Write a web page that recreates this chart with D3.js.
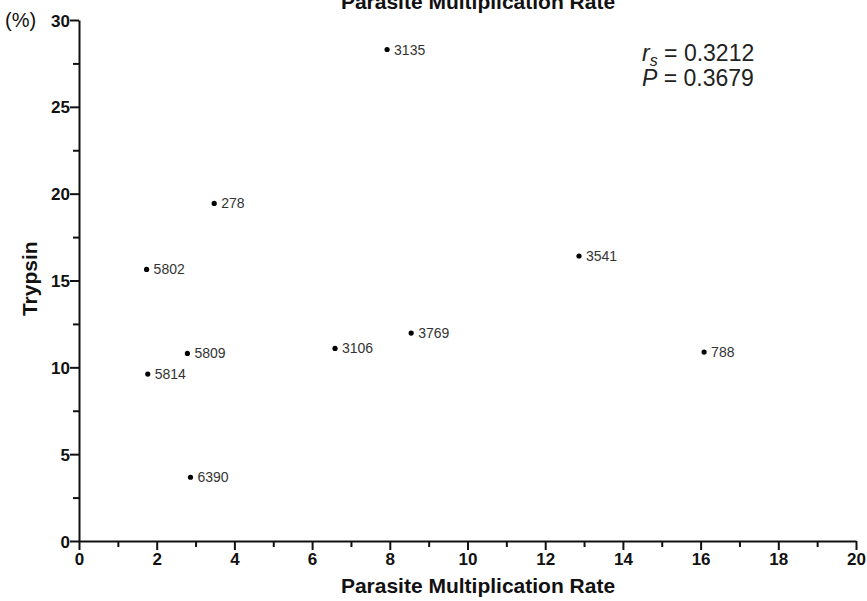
<!DOCTYPE html>
<html>
<head>
<meta charset="utf-8">
<script src="https://cdn.jsdelivr.net/npm/d3@7"></script>
<style>
  body { margin: 0; background: #fff; }
  svg text { font-family: "Liberation Sans", Arial, sans-serif; }
</style>
</head>
<body>
<div id="chart"></div>
<script>
// Data setup
const strains = ["3135", "278", "5802", "5809", "5814", "6390", "3106", "3769", "3541", "788"];
const multRate = [7.93, 3.48, 1.74, 2.79, 1.77, 2.87, 6.59, 8.55, 12.87, 16.09];
const trypsin = [28.3, 19.44, 15.64, 10.80, 9.61, 3.67, 11.09, 11.97, 16.41, 10.88];
const xTicks = [0, 2, 4, 6, 8, 10, 12, 14, 16, 18, 20];
const yTicks = [0, 5, 10, 15, 20, 25, 30];

const points = strains.map((s, i) => ({name: s, x: multRate[i], y: trypsin[i]}));

// Dimensions
const W = 867, H = 601;
const margin = {top: 20, right: 11, bottom: 60, left: 79};

const svg = d3.select("#chart")
    .append("svg")
    .attr("width", W)
    .attr("height", H);

const x = d3.scaleLinear().domain([0, 20]).range([margin.left, W - margin.right]);
const y = d3.scaleLinear().domain([0, 30]).range([H - margin.bottom, margin.top]);

// Minor ticks first (no labels)
svg.append("g")
    .attr("class", "minor")
    .attr("transform", `translate(0,${y(0)})`)
    .call(d3.axisBottom(x).tickValues(d3.range(1, 20, 2)).tickSize(6).tickFormat(""));
svg.append("g")
    .attr("class", "minor")
    .attr("transform", `translate(${x(0)},0)`)
    .call(d3.axisLeft(y).tickValues(d3.range(2.5, 30, 5)).tickSize(6).tickFormat(""));

// Major axes
const xAxis = svg.append("g")
    .attr("transform", `translate(0,${y(0)})`)
    .call(d3.axisBottom(x).tickValues(xTicks).tickSize(9).tickPadding(3).tickSizeOuter(0));
const yAxis = svg.append("g")
    .attr("transform", `translate(${x(0)},0)`)
    .call(d3.axisLeft(y).tickValues(yTicks).tickSize(9).tickPadding(0).tickSizeOuter(0));

svg.selectAll(".domain, .tick line")
    .attr("stroke", "#111")
    .attr("stroke-width", 2);
svg.selectAll(".minor .domain").remove();
xAxis.selectAll("text")
    .attr("font-size", 17).attr("font-weight", "bold").attr("fill", "#111");
yAxis.selectAll("text")
    .attr("font-size", 17).attr("font-weight", "bold").attr("fill", "#111")
    .attr("dy", "0.36em");

// Axis titles
svg.append("text")
    .attr("x", 478)
    .attr("y", 593)
    .attr("text-anchor", "middle")
    .attr("font-size", 21)
    .attr("font-weight", "bold")
    .attr("fill", "#111")
    .text("Parasite Multiplication Rate");

svg.append("text")
    .attr("transform", `translate(37,${y(15.1)}) rotate(-90)`)
    .attr("text-anchor", "middle")
    .attr("font-size", 21)
    .attr("font-weight", "bold")
    .attr("fill", "#111")
    .text("Trypsin");

svg.append("text")
    .attr("x", 5)
    .attr("y", 27)
    .attr("font-size", 20)
    .attr("fill", "#111")
    .text("(%)");

// Title cut off at the top
svg.append("text")
    .attr("x", 478)
    .attr("y", 9)
    .attr("text-anchor", "middle")
    .attr("font-size", 21)
    .attr("font-weight", "bold")
    .attr("fill", "#111")
    .text("Parasite Multiplication Rate");

// Points
svg.selectAll(".dot")
    .data(points)
    .enter()
    .append("circle")
    .attr("class", "dot")
    .attr("cx", d => x(d.x))
    .attr("cy", d => y(d.y))
    .attr("r", 2.6)
    .attr("fill", "#000");

svg.selectAll(".lbl")
    .data(points)
    .enter()
    .append("text")
    .attr("class", "lbl")
    .attr("x", d => x(d.x) + 7)
    .attr("y", d => y(d.y))
    .attr("dy", "0.36em")
    .attr("font-size", 14)
    .attr("fill", "#333")
    .text(d => d.name);

// Stats annotation
const stat = svg.append("text")
    .attr("x", 642)
    .attr("y", 61)
    .attr("font-size", 23)
    .attr("fill", "#222");
stat.append("tspan").attr("font-style", "italic").text("r");
stat.append("tspan").attr("font-style", "italic").attr("font-size", 16).attr("dy", 5).text("s");
stat.append("tspan").attr("dy", -5).text(" = 0.3212");

const stat2 = svg.append("text")
    .attr("x", 642)
    .attr("y", 86)
    .attr("font-size", 23)
    .attr("fill", "#222");
stat2.append("tspan").attr("font-style", "italic").text("P");
stat2.append("tspan").text(" = 0.3679");
</script>
</body>
</html>
